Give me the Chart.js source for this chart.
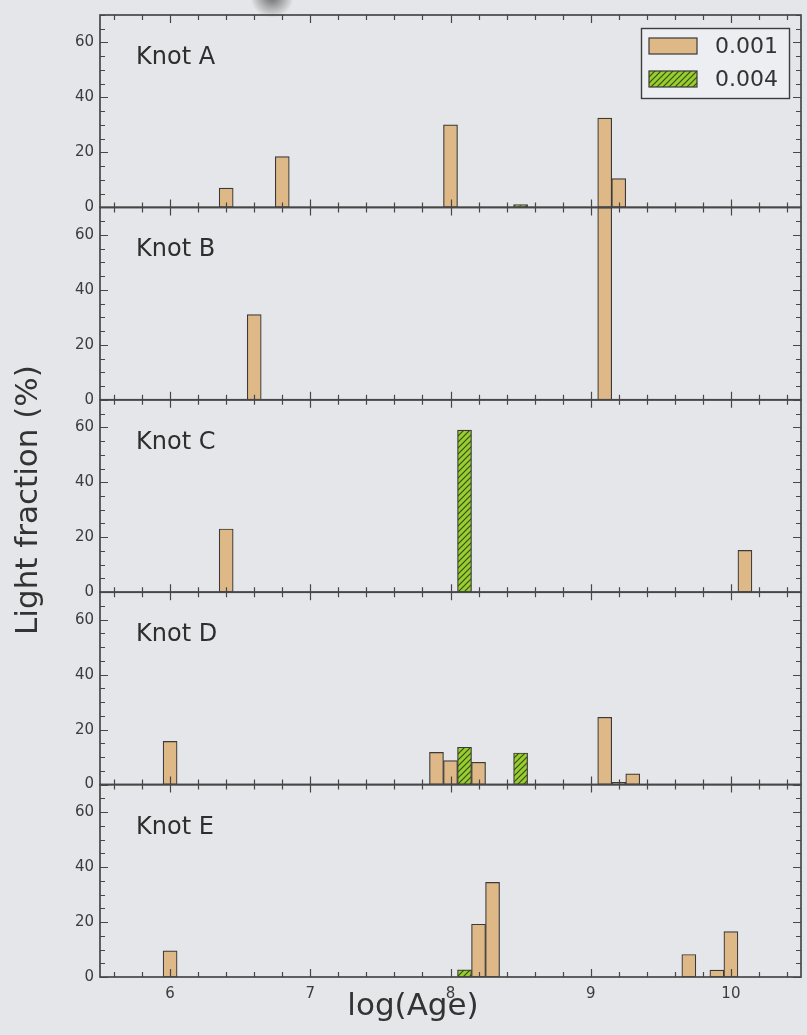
<!DOCTYPE html>
<html>
<head>
<meta charset="utf-8">
<title>Light fraction vs log(Age)</title>
<script src="https://cdn.jsdelivr.net/npm/chart.js@4.4.1/dist/chart.umd.min.js"></script>
<style>
  html, body { margin: 0; padding: 0; background: #e5e6ea; }
  canvas { display: block; }
</style>
</head>
<body>
<canvas id="knotChart" width="807" height="1035"></canvas>
<script>
const knotNames = ['Knot A', 'Knot B', 'Knot C', 'Knot D', 'Knot E'];
const zLabels = ['0.001', '0.004'];

// log(Age) bins and light fraction (%) for Z = 0.001
const ageA1 = [6.4, 6.8, 8.0, 9.1, 9.2];
const fracA1 = [7, 18.5, 30, 32.5, 10.5];
const ageB1 = [6.6, 9.1];
const fracB1 = [31, 70];
const ageC1 = [6.4, 10.1];
const fracC1 = [23, 15.2];
const ageD1 = [6.0, 7.9, 8.0, 8.2, 9.1, 9.2, 9.3];
const fracD1 = [15.7, 11.7, 8.7, 8.1, 24.5, 0.8, 3.9];
const ageE1 = [6.0, 8.2, 8.3, 9.7, 9.9, 10.0];
const fracE1 = [9.5, 19.2, 34.4, 8.2, 2.5, 16.5];

// same for Z = 0.004
const ageA4 = [8.5];
const fracA4 = [1];
const ageB4 = [];
const fracB4 = [];
const ageC4 = [8.1];
const fracC4 = [59];
const ageD4 = [8.1, 8.5];
const fracD4 = [13.6, 11.5];
const ageE4 = [8.1];
const fracE4 = [2.6];

const xTicks = [6, 7, 8, 9, 10];

const panelAxes = ['yA', 'yB', 'yC', 'yD', 'yE'];
const z1Ages = [ageA1, ageB1, ageC1, ageD1, ageE1];
const z1Fracs = [fracA1, fracB1, fracC1, fracD1, fracE1];
const z4Ages = [ageA4, ageB4, ageC4, ageD4, ageE4];
const z4Fracs = [fracA4, fracB4, fracC4, fracD4, fracE4];

const FONT = "'DejaVu Sans', sans-serif";
const BG = '#e5e6ea';
const INK = '#3c3c3c';
const TAN = '#deb887';
const EDGE = '#3a3a3a';

const canvas = document.getElementById('knotChart');
const ctx = canvas.getContext('2d');

// yellowgreen fill with '////' hatching
function makeHatch() {
  const tile = document.createElement('canvas');
  tile.width = 6;
  tile.height = 6;
  const g = tile.getContext('2d');
  g.fillStyle = '#9acd32';
  g.fillRect(0, 0, 6, 6);
  g.strokeStyle = '#34500c';
  g.lineWidth = 1.2;
  g.beginPath();
  g.moveTo(-1, 7); g.lineTo(7, -1);
  g.moveTo(-1, 1); g.lineTo(1, -1);
  g.moveTo(5, 7); g.lineTo(7, 5);
  g.stroke();
  return ctx.createPattern(tile, 'repeat');
}
const hatch = makeHatch();

function points(ages, fracs) {
  return ages.map((a, i) => ({ x: a, y: fracs[i] }));
}

const datasets = [];
panelAxes.forEach((id, p) => {
  datasets.push({
    label: zLabels[0],
    yAxisID: id,
    data: points(z1Ages[p], z1Fracs[p]),
    backgroundColor: TAN,
    borderColor: EDGE,
    borderWidth: 1.2,
    borderSkipped: false
  });
  datasets.push({
    label: zLabels[1],
    yAxisID: id,
    data: points(z4Ages[p], z4Fracs[p]),
    backgroundColor: hatch,
    borderColor: EDGE,
    borderWidth: 1.2,
    borderSkipped: false
  });
});

function panelAxis() {
  return {
    type: 'linear',
    position: 'left',
    stack: 'knots',
    stackWeight: 1,
    min: 0,
    max: 70,
    offset: false,
    grid: { display: false, drawTicks: false },
    border: { display: false },
    ticks: {
      stepSize: 20,
      includeBounds: false,
      padding: 6,
      color: INK,
      font: { family: FONT, size: 15 }
    },
    afterFit(s) { s.width = 100; }
  };
}

// page background plus the small dark smudge at the top edge
const backdrop = {
  id: 'backdrop',
  beforeDraw(chart) {
    const c = chart.ctx;
    c.save();
    c.fillStyle = BG;
    c.fillRect(0, 0, chart.width, chart.height);
    const grad = c.createRadialGradient(272, -4, 1, 272, -4, 22);
    grad.addColorStop(0, 'rgba(30,30,30,0.6)');
    grad.addColorStop(1, 'rgba(30,30,30,0)');
    c.fillStyle = grad;
    c.fillRect(245, 0, 55, 24);
    c.restore();
  }
};

// frame and inward tick marks for every panel
const panelFrames = {
  id: 'panelFrames',
  afterDatasetsDraw(chart) {
    const c = chart.ctx;
    const a = chart.chartArea;
    const x = chart.scales.x;
    c.save();
    c.strokeStyle = '#474747';
    panelAxes.forEach(id => {
      const y = chart.scales[id];
      const top = y.top;
      const bot = y.bottom;
      c.lineWidth = 1.2;
      c.beginPath();
      for (let k = 28; k <= 52; k++) {
        const major = k % 5 === 0;
        const len = major ? 8 : 5;
        const px = Math.round(x.getPixelForValue(k / 5)) + 0.5;
        c.moveTo(px, top); c.lineTo(px, top + len);
        c.moveTo(px, bot); c.lineTo(px, bot - len);
      }
      for (let v = 0; v <= 70; v += 5) {
        const len = v % 20 === 0 ? 8 : 5;
        const py = Math.round(y.getPixelForValue(v)) + 0.5;
        c.moveTo(a.left, py); c.lineTo(a.left + len, py);
        c.moveTo(a.right, py); c.lineTo(a.right - len, py);
      }
      c.stroke();
      c.lineWidth = 1.7;
      c.strokeRect(a.left, top, a.right - a.left, bot - top);
    });
    c.restore();
  }
};

// knot names, legend box and axis titles
const annotations = {
  id: 'annotations',
  afterDraw(chart) {
    const c = chart.ctx;
    const a = chart.chartArea;
    c.save();
    c.fillStyle = '#2e2e2e';
    c.font = '24px ' + FONT;
    c.textAlign = 'left';
    c.textBaseline = 'alphabetic';
    panelAxes.forEach((id, p) => {
      c.fillText(knotNames[p], a.left + 36, chart.scales[id].top + 49);
    });

    // legend
    const lx = a.right - 160, ly = a.top + 13, lw = 148, lh = 70;
    c.fillStyle = '#eceef1';
    c.fillRect(lx, ly, lw, lh);
    c.strokeStyle = '#3c3c3c';
    c.lineWidth = 1.4;
    c.strokeRect(lx + 0.5, ly + 0.5, lw, lh);
    const fills = [datasets[0].backgroundColor, datasets[1].backgroundColor];
    c.font = '22px ' + FONT;
    c.textBaseline = 'middle';
    zLabels.forEach((lab, i) => {
      const sy = ly + 10 + i * 33;
      c.fillStyle = fills[i];
      c.fillRect(lx + 8, sy, 48, 16);
      c.strokeStyle = EDGE;
      c.lineWidth = 1.2;
      c.strokeRect(lx + 8, sy, 48, 16);
      c.fillStyle = '#333333';
      c.fillText(lab, lx + 74, sy + 9);
    });

    // axis titles
    c.fillStyle = '#333333';
    c.font = '31px ' + FONT;
    c.textAlign = 'center';
    c.textBaseline = 'alphabetic';
    c.fillText('log(Age)', 413, 1015);
    c.translate(37, 500);
    c.rotate(-Math.PI / 2);
    c.fillText('Light fraction (%)', 0, 0);
    c.restore();
  }
};

const scales = {
  x: {
    type: 'linear',
    min: 5.5,
    max: 10.5,
    offset: false,
    grid: { display: false, drawTicks: false },
    border: { display: false },
    afterBuildTicks(s) { s.ticks = xTicks.map(v => ({ value: v })); },
    ticks: {
      padding: 8,
      color: INK,
      font: { family: FONT, size: 15 },
      maxRotation: 0
    },
    afterFit(s) { s.height = 58; }
  }
};
// the last stacked axis lands on top, so add them bottom-up
panelAxes.slice().reverse().forEach(id => { scales[id] = panelAxis(); });

new Chart(ctx, {
  type: 'bar',
  data: { datasets },
  options: {
    responsive: false,
    animation: false,
    grouped: false,
    categoryPercentage: 1,
    barPercentage: 1,
    layout: { padding: { left: 0, right: 6, top: 15, bottom: 0 } },
    plugins: {
      legend: { display: false },
      tooltip: { enabled: false }
    },
    scales
  },
  plugins: [backdrop, panelFrames, annotations]
});
</script>
</body>
</html>
